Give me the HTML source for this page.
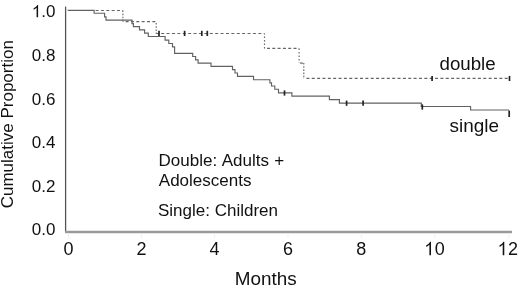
<!DOCTYPE html>
<html><head><meta charset="utf-8">
<style>
html,body{margin:0;padding:0;background:#fff;}
body{width:520px;height:288px;overflow:hidden;}
svg{display:block;will-change:transform;}
text{font-family:"Liberation Sans",sans-serif;fill:#111;}
</style></head>
<body>
<svg width="520" height="288" viewBox="0 0 520 288">
<rect x="0" y="0" width="520" height="288" fill="#fff"/>
<g>
<line x1="65.6" y1="6.6" x2="65.6" y2="232" stroke="#555" stroke-width="1.3"/>
<line x1="65" y1="232" x2="512" y2="232" stroke="#9a9a9a" stroke-width="2.3"/>
<g stroke="#f0f0f0" stroke-width="1"><line x1="68.5" y1="233.2" x2="68.5" y2="238.5"/><line x1="141.6" y1="233.2" x2="141.6" y2="238.5"/><line x1="214.6" y1="233.2" x2="214.6" y2="238.5"/><line x1="288" y1="233.2" x2="288" y2="238.5"/><line x1="361.3" y1="233.2" x2="361.3" y2="238.5"/><line x1="434.7" y1="233.2" x2="434.7" y2="238.5"/><line x1="508.7" y1="233.2" x2="508.7" y2="238.5"/></g>
<g font-size="17" text-anchor="end">
<text x="55.4" y="17.20">.0</text>
<text x="55.4" y="60.85">0.8</text>
<text x="55.4" y="104.50">0.6</text>
<text x="55.4" y="148.15">0.4</text>
<text x="55.4" y="191.80">0.2</text>
<text x="55.4" y="235.45">0.0</text>
</g>
<path fill="#111" transform="translate(31.77,17.2) scale(0.0170,-0.0170)" d="M372,0 L284,0 L284,560 C252,530 210,500 160,470 C140,458 122,450 108,444 L108,529 C180,563 242,604 280,649 C300,672 314,694 321,716 L372,716 Z"/>
<g font-size="18" text-anchor="middle">
<text transform="translate(68.6,255.3) scale(1,1.045)">0</text>
<text transform="translate(141.6,255.3) scale(1,1.045)">2</text>
<text transform="translate(214.6,255.3) scale(1,1.045)">4</text>
<text transform="translate(288,255.3) scale(1,1.045)">6</text>
<text transform="translate(361.3,255.3) scale(1,1.045)">8</text>
</g>
<g transform="translate(424.29,255.3) scale(1,1.045)"><path fill="#111" transform="translate(0.00,0) scale(0.0180,-0.0180)" d="M372,0 L284,0 L284,560 C252,530 210,500 160,470 C140,458 122,450 108,444 L108,529 C180,563 242,604 280,649 C300,672 314,694 321,716 L372,716 Z"/><text x="10.41" y="0" font-size="18">0</text></g>
<g transform="translate(497.59,255.3) scale(1,1.045)"><path fill="#111" transform="translate(0.00,0) scale(0.0180,-0.0180)" d="M372,0 L284,0 L284,560 C252,530 210,500 160,470 C140,458 122,450 108,444 L108,529 C180,563 242,604 280,649 C300,672 314,694 321,716 L372,716 Z"/><text x="10.41" y="0" font-size="18">2</text></g>
<text transform="translate(265.8,284.5) scale(1.05,1)" font-size="18" text-anchor="middle">Months</text>
<text transform="translate(13.2,124.2) rotate(-90)" font-size="17" text-anchor="middle">Cumulative Proportion</text>
<path fill="none" stroke="#626262" stroke-width="1.15" d="M67.7,10.4 H94.1 V13.2 H104.6 V16.9 H106 V20.1 H132 V23.6 H133.4 V26.6 H139.5 V29.8 H144.6 V33.1 H148.3 V36.5 H165.1 V40.1 H168.8 V43.5 H172.5 V46.8 H174.6 V53.4 H192.7 V56.5 H195.6 V59.8 H198.1 V63.1 H211 V66.3 H232.5 V69.6 H235 V73 H237.5 V76.3 H253.5 V79.7 H269.9 V82.8 H271.5 V86 H274.8 V89.2 H278.5 V92.9 H291.9 V96.1 H329.4 V99.6 H339.4 V103.1 H421.3 V106.5 H470.6 V110 H509"/>
<g fill="none" stroke="#666" stroke-width="1.15">
<path d="M94.1,10.45 H122.9" stroke-dasharray="3.0 2.35" stroke-dashoffset="3.85"/>
<path d="M122.9,21.6 H156.2" stroke-dasharray="3.0 2.35" stroke-dashoffset="2.65"/>
<path d="M156.2,33.45 H264.5" stroke-dasharray="3.0 2.40" stroke-dashoffset="0.44"/>
<path d="M264.5,48.4 H299.1" stroke-dasharray="3.0 2.30" stroke-dashoffset="2.80"/>
<path d="M299.1,63.1 H303.8" stroke-dasharray="3.0 2.30" stroke-dashoffset="4.40"/>
<path d="M303.8,78.4 H509.5" stroke-dasharray="3.0 2.36" stroke-dashoffset="2.76"/>
<path d="M122.9,10.45 V21.6" stroke-dasharray="1.6 1.50" stroke-dashoffset="3.05"/>
<path d="M156.2,21.6 V33.45" stroke-dasharray="1.6 1.60" stroke-dashoffset="1.80"/>
<path d="M264.5,33.45 V48.4" stroke-dasharray="1.6 1.90" stroke-dashoffset="0.55"/>
<path d="M299.1,48.4 V63.1" stroke-dasharray="1.6 1.90" stroke-dashoffset="3.40"/>
<path d="M303.8,63.1 V78.4" stroke-dasharray="1.6 1.60" stroke-dashoffset="0.15"/>
</g>
<g stroke="#222" stroke-width="1.7"><line x1="159" y1="30.8" x2="159" y2="36"/><line x1="184.6" y1="30.8" x2="184.6" y2="36"/><line x1="201.8" y1="30.8" x2="201.8" y2="36"/><line x1="207.3" y1="30.8" x2="207.3" y2="36"/><line x1="432.1" y1="75.9" x2="432.1" y2="81"/><line x1="509.5" y1="75.9" x2="509.5" y2="81"/><line x1="284.5" y1="90.4" x2="284.5" y2="95.6"/><line x1="346.6" y1="100.6" x2="346.6" y2="105.8"/><line x1="363.1" y1="100.6" x2="363.1" y2="105.8"/><line x1="422.3" y1="104.4" x2="422.3" y2="109.6"/><line x1="509.2" y1="110.6" x2="509.2" y2="117"/></g>
<text transform="translate(439.5,70.4) scale(1.04,1.02)" font-size="18">double</text>
<text transform="translate(449.5,132.2) scale(1.053,1)" font-size="18">single</text>
<g font-size="17">
<text x="158.6" y="166.1" word-spacing="0.7">Double: Adults +</text>
<text x="158.8" y="185.9">Adolescents</text>
<text x="158" y="215.7">Single: Children</text>
</g>
</g>
</svg>
</body></html>
